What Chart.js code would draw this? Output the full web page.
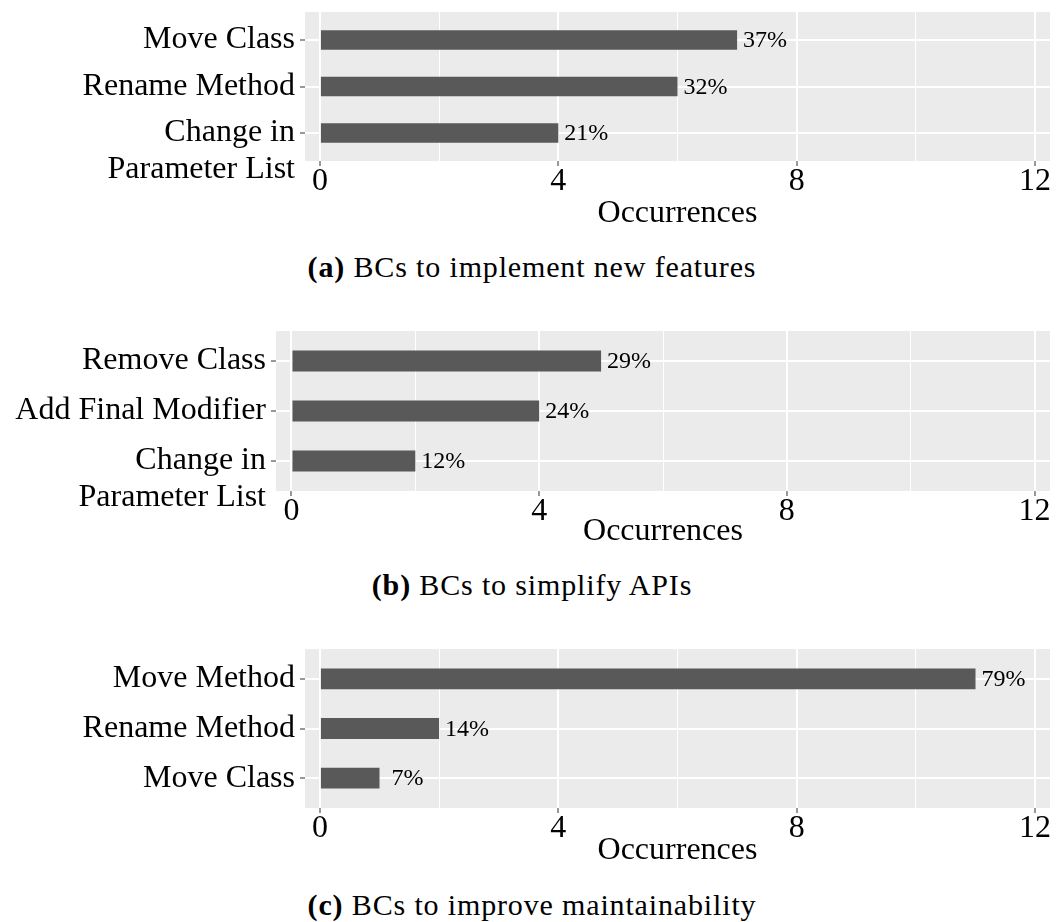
<!DOCTYPE html>
<html>
<head>
<meta charset="utf-8">
<title>Breaking changes by motivation</title>
<script src="https://cdn.jsdelivr.net/npm/chart.js@4"></script>
<style>
  html, body { margin: 0; padding: 0; background: #fff; }
  body { width: 1057px; height: 922px; position: relative; overflow: hidden; }
  canvas { position: absolute; left: 0; }
  .caption {
    position: absolute; left: 0; width: 1064px; text-align: center;
    font-family: "Liberation Serif", serif; font-size: 30px; line-height: 30px;
    letter-spacing: 0.85px; color: #000; white-space: nowrap;
  }
</style>
</head>
<body>
<canvas id="chartA" width="1057" height="230" style="top:0px"></canvas>
<div class="caption" style="top:252px"><b>(a)</b> BCs to implement new features</div>
<canvas id="chartB" width="1057" height="228" style="top:320px"></canvas>
<div class="caption" style="top:570px"><b>(b)</b> BCs to simplify APIs</div>
<canvas id="chartC" width="1057" height="247" style="top:620px"></canvas>
<div class="caption" style="top:890px"><b>(c)</b> BCs to improve maintainability</div>

<script>
// Shared x axis: labelled major ticks and unlabelled minor grid lines
const xMajorTicks = [0, 4, 8, 12];
const xMinorTicks = [2, 6, 10];
const xTitle = 'Occurrences';

// (a) new features
const featureCats = ['Move Class', 'Rename Method', ['Change in', 'Parameter List']];
const featureCounts = [7, 6, 4];
const featureShares = [37, 32, 21];

// (b) API simplification
const simplifyCats = ['Remove Class', 'Add Final Modifier', ['Change in', 'Parameter List']];
const simplifyCounts = [5, 4, 2];
const simplifyShares = [29, 24, 12];

// (c) maintainability
const maintainCats = ['Move Method', 'Rename Method', 'Move Class'];
const maintainCounts = [11, 2, 1];
const maintainShares = [79, 14, 7];

Chart.defaults.font.family = '"Liberation Serif", "Times New Roman", serif';

// grey panel behind the plotting area
const panelBackground = {
  id: 'panelBackground',
  beforeDraw(chart) {
    const { ctx, chartArea: a } = chart;
    ctx.save();
    ctx.fillStyle = '#EBEBEB';
    ctx.fillRect(a.left, a.top, a.right - a.left, a.bottom - a.top);
    ctx.restore();
  }
};

// percentage text just past the end of each bar
const shareLabels = {
  id: 'shareLabels',
  afterDatasetsDraw(chart, args, opts) {
    const { ctx } = chart;
    const meta = chart.getDatasetMeta(0);
    ctx.save();
    ctx.font = '24px "Liberation Serif", serif';
    ctx.fillStyle = '#000';
    ctx.textAlign = 'left';
    ctx.textBaseline = 'middle';
    meta.data.forEach((bar, i) => {
      const txt = String(opts.shares[i]).padStart(2, ' ') + '%';
      ctx.fillText(txt, bar.x + 6, bar.y + 1);
    });
    ctx.restore();
  }
};

function drawPanel(id, cats, counts, shares, dims) {
  const n = cats.length;
  const isMajor = v => xMajorTicks.includes(v);
  return new Chart(document.getElementById(id), {
    type: 'bar',
    data: {
      datasets: [{
        data: counts.map((c, i) => ({ x: c, y: n - i })),
        backgroundColor: '#595959',
        borderWidth: 0,
        categoryPercentage: 1,
        barPercentage: 0.42
      }]
    },
    options: {
      indexAxis: 'y',
      responsive: false,
      animation: false,
      devicePixelRatio: 1,
      layout: { padding: { top: dims.top, right: 7, bottom: 0, left: 0 } },
      plugins: {
        legend: { display: false },
        tooltip: { enabled: false },
        shareLabels: { shares }
      },
      scales: {
        x: {
          type: 'linear',
          position: 'bottom',
          bounds: 'data',
          offset: false,
          min: -0.25,
          max: 12.25,
          afterBuildTicks: s => {
            s.ticks = [...xMajorTicks, ...xMinorTicks].sort((a, b) => a - b).map(v => ({ value: v }));
          },
          afterFit: s => { s.height = dims.axisHeight; s.paddingLeft = 0; s.paddingRight = 0; },
          grid: {
            offset: false,
            color: '#FFFFFF',
            lineWidth: c => (c.tick && isMajor(c.tick.value)) ? 2 : 1,
            tickLength: 5,
            tickWidth: 1,
            tickColor: c => (c.tick && isMajor(c.tick.value)) ? '#333333' : 'rgba(0,0,0,0)'
          },
          border: { display: false },
          ticks: {
            autoSkip: false,
            maxRotation: 0,
            padding: 0,
            color: '#000',
            font: { size: 32, lineHeight: 1 },
            callback: v => isMajor(v) ? String(v) : ''
          },
          title: {
            display: true,
            text: xTitle,
            color: '#000',
            font: { size: 32, lineHeight: 1 },
            padding: 0
          }
        },
        y: {
          type: 'linear',
          position: 'left',
          bounds: 'data',
          offset: false,
          min: 0.4,
          max: n + 0.6,
          afterBuildTicks: s => { s.ticks = cats.map((_, i) => ({ value: i + 1 })); },
          afterFit: s => { s.width = dims.yAxisWidth; s.paddingTop = 0; s.paddingBottom = 0; },
          grid: {
            offset: false,
            color: '#FFFFFF',
            lineWidth: 2,
            tickLength: 5,
            tickWidth: 1,
            tickColor: '#333333'
          },
          border: { display: false },
          ticks: {
            autoSkip: false,
            padding: 5,
            color: '#000',
            font: { size: 32, lineHeight: 1.15 },
            // wrapped names keep their first line level with the tick
            callback: v => {
              const c = cats[n - v];
              return Array.isArray(c) ? ['', ...c] : c;
            }
          }
        }
      }
    },
    plugins: [panelBackground, shareLabels]
  });
}

drawPanel('chartA', featureCats, featureCounts, featureShares, { top: 12, yAxisWidth: 305, axisHeight: 69 });
drawPanel('chartB', simplifyCats, simplifyCounts, simplifyShares, { top: 11, yAxisWidth: 276, axisHeight: 57 });
drawPanel('chartC', maintainCats, maintainCounts, maintainShares, { top: 29, yAxisWidth: 305, axisHeight: 59 });
</script>
</body>
</html>
